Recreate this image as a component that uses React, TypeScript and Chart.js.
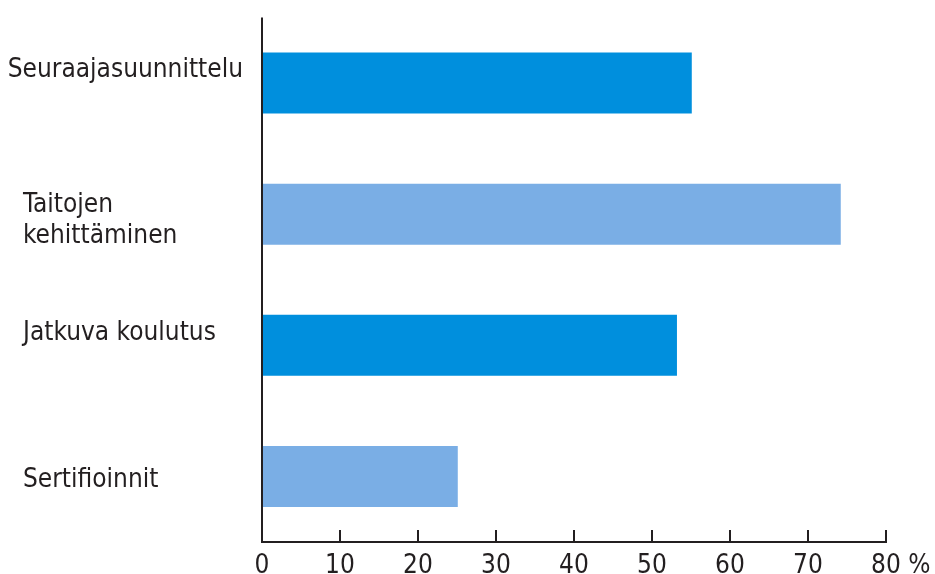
import { useEffect, useRef } from "react";
import { Chart, registerables } from "chart.js";

Chart.register(...registerables);

// Category labels (multi-line where the label wraps)
const categories: string[][] = [
  ["Seuraajasuunnittelu"],
  ["Taitojen", "kehittäminen"],
  ["Jatkuva koulutus"],
  ["Sertifioinnit"],
];
// Share of respondents, %
const shares: number[] = [55.1, 74.2, 53.2, 25.1];
const barColors: string[] = ["#008fdd", "#7aaee5", "#008fdd", "#7aaee5"];
const xTickValues: number[] = [0, 10, 20, 30, 40, 50, 60, 70, 80];
const unitLabel = "%";

// Text layout for the category labels (baseline of first line relative to bar centre)
const labelBaselineShift: number[] = [-6.5, -2.5, -5.5, 10.8];
const LABEL_LINE_HEIGHT = 31;
const LABEL_LEFT = 23;
const LABEL_GAP = 19;

const FONT = '26px "DejaVu Sans Condensed", "Liberation Sans", sans-serif';
const INK = "#231f20";

const axesPlugin = {
  id: "customAxes",
  afterDatasetsDraw(chart: any) {
    const { ctx, chartArea, scales } = chart;
    const xs = scales.x;
    const ys = scales.y;
    const x0 = xs.getPixelForValue(0);
    const xEnd = xs.getPixelForValue(xTickValues[xTickValues.length - 1]);
    const bottom = chartArea.bottom;
    ctx.save();
    ctx.strokeStyle = INK;
    ctx.lineWidth = 2;
    // y axis
    ctx.beginPath();
    ctx.moveTo(x0, chartArea.top);
    ctx.lineTo(x0, bottom + 1);
    ctx.stroke();
    // x axis
    ctx.beginPath();
    ctx.moveTo(x0 - 1, bottom);
    ctx.lineTo(xEnd + 1, bottom);
    ctx.stroke();
    // tick marks pointing inward
    ctx.lineWidth = 2;
    xTickValues.forEach((v) => {
      if (v === 0) return;
      const px = Math.round(xs.getPixelForValue(v));
      ctx.beginPath();
      ctx.moveTo(px, bottom);
      ctx.lineTo(px, bottom - 12);
      ctx.stroke();
    });

    ctx.fillStyle = INK;
    ctx.font = FONT;
    // tick labels
    ctx.textBaseline = "alphabetic";
    ctx.textAlign = "center";
    const tickBaseline = bottom + 31;
    xTickValues.forEach((v) => {
      ctx.fillText(String(v), xs.getPixelForValue(v), tickBaseline);
    });
    const lastText = String(xTickValues[xTickValues.length - 1]);
    const lastW = ctx.measureText(lastText).width;
    const spaceW = ctx.measureText(" ").width;
    ctx.textAlign = "left";
    ctx.fillText(unitLabel, xEnd + lastW / 2 + spaceW, tickBaseline);

    // category labels
    categories.forEach((lines, i) => {
      const cy = ys.getPixelForValue(i);
      const widest = Math.max(...lines.map((l) => ctx.measureText(l).width));
      const left = Math.min(LABEL_LEFT, x0 - LABEL_GAP - widest);
      lines.forEach((line, j) => {
        ctx.fillText(line, left, cy + labelBaselineShift[i] + j * LABEL_LINE_HEIGHT);
      });
    });
    ctx.restore();
  },
};

export default function App() {
  const canvasRef = useRef<HTMLCanvasElement | null>(null);

  useEffect(() => {
    if (!canvasRef.current) return;
    const chart = new Chart(canvasRef.current, {
      type: "bar",
      data: {
        labels: categories.map((c) => c.join(" ")),
        datasets: [
          {
            data: shares,
            backgroundColor: barColors,
            borderWidth: 0,
            categoryPercentage: 1,
            barPercentage: 0.465,
          },
        ],
      },
      options: {
        indexAxis: "y",
        animation: false,
        responsive: false,
        maintainAspectRatio: false,
        layout: { padding: { left: 262, right: 49, top: 17.5, bottom: 32 } },
        plugins: {
          legend: { display: false },
          tooltip: { enabled: false },
          title: { display: false },
        },
        scales: {
          x: {
            display: false,
            min: 0,
            max: 80,
          },
          y: {
            display: false,
            offset: true,
          },
        },
      },
      plugins: [axesPlugin],
    });
    return () => chart.destroy();
  }, []);

  return (
    <div style={{ position: "absolute", left: 0, top: 0, width: 935, height: 574, background: "#fff" }}>
      <canvas ref={canvasRef} width={935} height={574} style={{ display: "block", width: 935, height: 574 }} />
    </div>
  );
}
